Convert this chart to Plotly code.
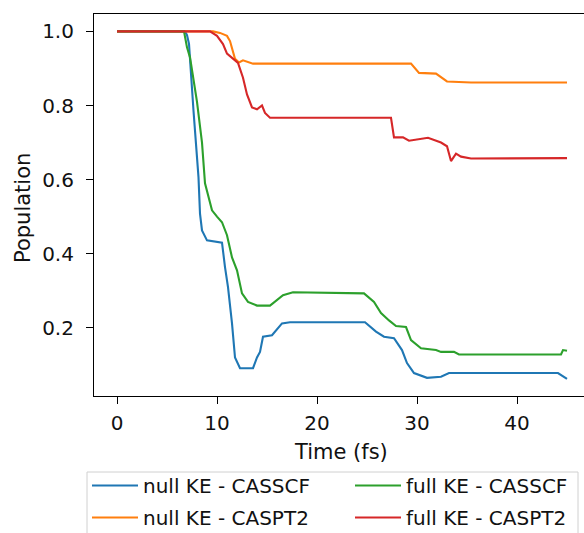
import plotly.graph_objects as go

# --- data ---
t_null_casscf = [0, 6.8, 7.0, 7.2, 7.65, 8.15, 8.3, 8.5, 9.0, 10.5, 10.8, 11.1, 11.5, 11.8, 12.3,
                 13.6, 14.0, 14.3, 14.6, 15.5, 16.5, 17.3, 24.8, 25.9, 26.7, 27.7, 28.5, 29.0,
                 29.7, 31.0, 32.4, 33.2, 44.1, 45.0]
p_null_casscf = [1.0, 1.0, 0.99, 0.966, 0.786, 0.606, 0.508, 0.463, 0.436, 0.43, 0.364, 0.31, 0.212,
                 0.12, 0.091, 0.091, 0.12, 0.135, 0.176, 0.18, 0.212, 0.215, 0.215, 0.19, 0.176,
                 0.172, 0.14, 0.105, 0.078, 0.065, 0.068, 0.078, 0.078, 0.062]

t_null_caspt2 = [0, 9.6, 10.3, 11.0, 11.3, 11.8, 12.2, 12.6, 13.6, 29.4, 30.2, 31.9, 33.0, 35.4, 45.0]
p_null_caspt2 = [1.0, 1.0, 0.996, 0.988, 0.974, 0.926, 0.916, 0.922, 0.913, 0.913, 0.888, 0.886,
                 0.865, 0.862, 0.862]

t_full_casscf = [0, 6.7, 7.0, 7.3, 8.0, 8.5, 8.8, 9.0, 9.5, 10.0, 10.5, 11.0, 11.5, 12.0, 12.5,
                 13.1, 14.0, 15.3, 16.0, 16.6, 17.6, 24.7, 25.7, 26.4, 27.2, 27.9, 28.9, 29.4,
                 30.4, 31.9, 32.4, 33.7, 34.2, 44.4, 44.6, 45.0]
p_full_casscf = [1.0, 1.0, 0.957, 0.93, 0.81, 0.70, 0.59, 0.57, 0.517, 0.50, 0.485, 0.45, 0.39,
                 0.355, 0.293, 0.27, 0.26, 0.26, 0.275, 0.288, 0.296, 0.293, 0.27, 0.24, 0.22,
                 0.205, 0.202, 0.167, 0.145, 0.14, 0.135, 0.135, 0.128, 0.128, 0.14, 0.138]

t_full_caspt2 = [0, 9.3, 10.0, 10.6, 11.0, 11.6, 12.1, 12.6, 13.0, 13.5, 14.0, 14.5, 14.8, 15.3,
                 27.4, 27.7, 28.6, 29.2, 31.1, 32.4, 33.0, 33.4, 33.9, 34.4, 35.4, 45.0]
p_full_caspt2 = [1.0, 1.0, 0.988, 0.966, 0.94, 0.926, 0.915, 0.875, 0.83, 0.795, 0.79, 0.80, 0.78,
                 0.767, 0.767, 0.714, 0.714, 0.705, 0.713, 0.70, 0.69, 0.65, 0.67, 0.662, 0.657, 0.658]

x_ticks = [0, 10, 20, 30, 40]
y_ticks = [0.2, 0.4, 0.6, 0.8, 1.0]
x_title = "Time (fs)"
y_title = "Population"

series = [
    ("null KE - CASSCF", t_null_casscf, p_null_casscf, "#1f77b4", "legend"),
    ("null KE - CASPT2", t_null_caspt2, p_null_caspt2, "#ff7f0e", "legend"),
    ("full KE - CASSCF", t_full_casscf, p_full_casscf, "#2ca02c", "legend2"),
    ("full KE - CASPT2", t_full_caspt2, p_full_caspt2, "#d62728", "legend2"),
]

FONT = "DejaVu Sans"
TXT = "#111"

fig = go.Figure()
for name, t, p, c, leg in series:
    fig.add_trace(go.Scatter(x=t, y=p, mode="lines", name=name, legend=leg,
                             legendgroup=name,
                             line=dict(color=c, width=2.1)))

leg_common = dict(orientation="v", xref="container", yref="container",
                  xanchor="left", yanchor="top", y=1 - 466 / 533,
                  bgcolor="rgba(0,0,0,0)", borderwidth=0,
                  font=dict(family=FONT, size=20, color=TXT),
                  itemwidth=46, tracegroupgap=3, traceorder="grouped")

fig.update_layout(
    width=584, height=533,
    margin=dict(l=94, r=0, t=14, b=137, autoexpand=False),
    plot_bgcolor="white", paper_bgcolor="white",
    font=dict(family=FONT, size=20, color=TXT),
    showlegend=True,
    legend=dict(x=87 / 584, **leg_common),
    legend2=dict(x=350 / 584, **leg_common),
    xaxis=dict(range=[-2.3, 46.7], tickvals=x_ticks, ticks="outside", ticklen=7,
               tickcolor="black", showline=True, linecolor="black", linewidth=1.1,
               mirror=True, showgrid=False, zeroline=False, ticklabelstandoff=2,
               automargin=False),
    yaxis=dict(range=[0.016, 1.047], tickvals=y_ticks, tickformat=".1f", ticks="outside",
               ticklen=7, tickcolor="black", showline=True, linecolor="black", linewidth=1.1,
               showgrid=False, zeroline=False, ticklabelstandoff=8, automargin=False),
    annotations=[
        dict(text=x_title, xref="paper", yref="paper", x=(340.5 - 94) / 490,
             y=(396 - 452) / 382, xanchor="center", yanchor="middle", showarrow=False,
             font=dict(family=FONT, size=21, color=TXT)),
        dict(text=y_title, xref="paper", yref="paper", x=(23 - 94) / 490,
             y=(396 - 208) / 382, xanchor="center", yanchor="middle", showarrow=False,
             textangle=-90, font=dict(family=FONT, size=21, color=TXT)),
    ],
    shapes=[dict(type="rect", xref="paper", yref="paper",
                 x0=(87 - 94) / 490, x1=(578 - 94) / 490,
                 y0=-0.199, y1=-0.40,
                 line=dict(color="#d0d0d0", width=1), fillcolor="rgba(0,0,0,0)",
                 layer="above")],
)

fig.write_html("out.html")
